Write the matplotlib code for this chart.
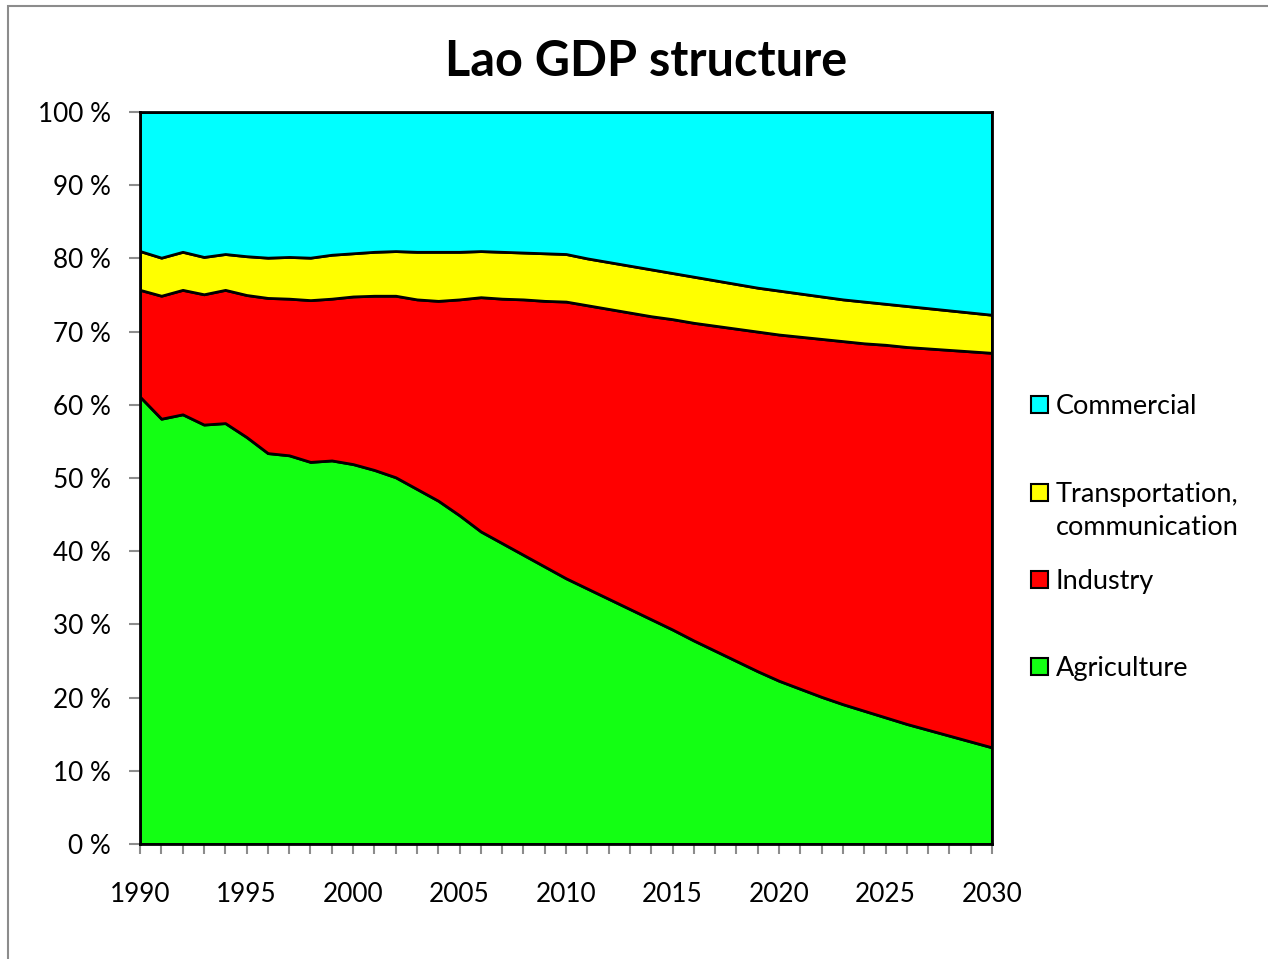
import numpy as np
import matplotlib
matplotlib.use("Agg")
import matplotlib.pyplot as plt
from matplotlib.patches import Rectangle
from matplotlib.ticker import MultipleLocator

plt.rcParams['font.family'] = ['Lato', 'DejaVu Sans']

years = list(range(1990, 2031))

agriculture = [61.1, 58.1, 58.7, 57.3, 57.5, 55.6, 53.4, 53.1, 52.2, 52.4,
               51.9, 51.1, 50.1, 48.5, 46.9, 44.9, 42.7, 41.1, 39.5, 37.9,
               36.3, 34.9, 33.5, 32.1, 30.7, 29.3, 27.8, 26.4, 25.0, 23.6,
               22.3, 21.2, 20.1, 19.1, 18.2, 17.3, 16.4, 15.6, 14.8, 14.0, 13.2]
industry = [14.6, 16.8, 17.0, 17.8, 18.2, 19.4, 21.2, 21.4, 22.1, 22.1,
            22.9, 23.8, 24.8, 25.9, 27.3, 29.5, 32.0, 33.4, 34.9, 36.3,
            37.8, 38.7, 39.6, 40.5, 41.4, 42.4, 43.4, 44.4, 45.4, 46.4,
            47.3, 48.1, 48.9, 49.6, 50.2, 50.9, 51.5, 52.1, 52.7, 53.3, 53.9]
transport = [5.3, 5.2, 5.2, 5.1, 4.9, 5.3, 5.5, 5.7, 5.8, 6.0,
             5.9, 6.0, 6.1, 6.5, 6.7, 6.5, 6.3, 6.4, 6.4, 6.5,
             6.5, 6.4, 6.4, 6.4, 6.4, 6.3, 6.3, 6.2, 6.1, 6.0,
             6.0, 5.9, 5.8, 5.7, 5.7, 5.6, 5.6, 5.5, 5.4, 5.3, 5.2]
commercial = [19.0, 19.9, 19.1, 19.8, 19.4, 19.7, 19.9, 19.8, 19.9, 19.5,
              19.3, 19.1, 19.0, 19.1, 19.1, 19.1, 19.0, 19.1, 19.2, 19.3,
              19.4, 20.0, 20.5, 21.0, 21.5, 22.0, 22.5, 23.0, 23.5, 24.0,
              24.4, 24.8, 25.2, 25.6, 25.9, 26.2, 26.5, 26.8, 27.1, 27.4, 27.7]

series_names = ["Agriculture", "Industry", "Transportation,\ncommunication", "Commercial"]
series_colors = ["#13FF13", "#FF0000", "#FFFF00", "#00FFFF"]
title = "Lao GDP structure"

data = np.array([agriculture, industry, transport, commercial], dtype=float)
data = data / data.sum(axis=0) * 100.0

W, H = 1268, 959
fig = plt.figure(figsize=(W / 100, H / 100), dpi=100)

# outer chart border
fig.patches.append(Rectangle((8 / W, -0.05), 1.2, (H - 6) / H + 0.05,
                             transform=fig.transFigure, fill=False,
                             edgecolor="#8c8c8c", linewidth=1.5))

ax = fig.add_axes([140 / W, (H - 844) / H, (992 - 140) / W, (844 - 112) / H])
ax.stackplot(years, data, colors=series_colors, edgecolor="black", linewidth=2)

ax.set_xlim(1990, 2030)
ax.set_ylim(0, 100)
ax.xaxis.set_major_locator(MultipleLocator(5))
ax.xaxis.set_minor_locator(MultipleLocator(1))
ax.set_yticks(range(0, 101, 10))
ax.set_yticklabels([f"{v} %" for v in range(0, 101, 10)])

ax.tick_params(axis="x", which="both", direction="out", length=7, width=1.5,
               color="#8c8c8c", labelsize=18.8, pad=20)
ax.tick_params(axis="y", which="major", direction="out", length=8, width=1.5,
               color="#8c8c8c", labelsize=18.8, pad=13)
for s in ax.spines.values():
    s.set_color("black")
    s.set_linewidth(2)

fig.text(646 / W, 1 - 62 / H, title, ha="center", va="center",
         fontsize=35, fontweight="bold")

# legend (top to bottom: reverse order)
leg_items = [
    (series_names[3], series_colors[3], 404),
    (series_names[2], series_colors[2], 492),
    (series_names[1], series_colors[1], 579),
    (series_names[0], series_colors[0], 666),
]
for name, col, yc in leg_items:
    fig.patches.append(Rectangle((1031 / W, 1 - (yc + 8.5) / H), 17 / W, 17 / H,
                                 transform=fig.transFigure, facecolor=col,
                                 edgecolor="black", linewidth=1.5))
    fig.text(1056 / W, 1 - (yc - 10) / H, name, ha="left", va="top",
             fontsize=19.5, linespacing=1.4)

fig.savefig("out.png", dpi=100)
